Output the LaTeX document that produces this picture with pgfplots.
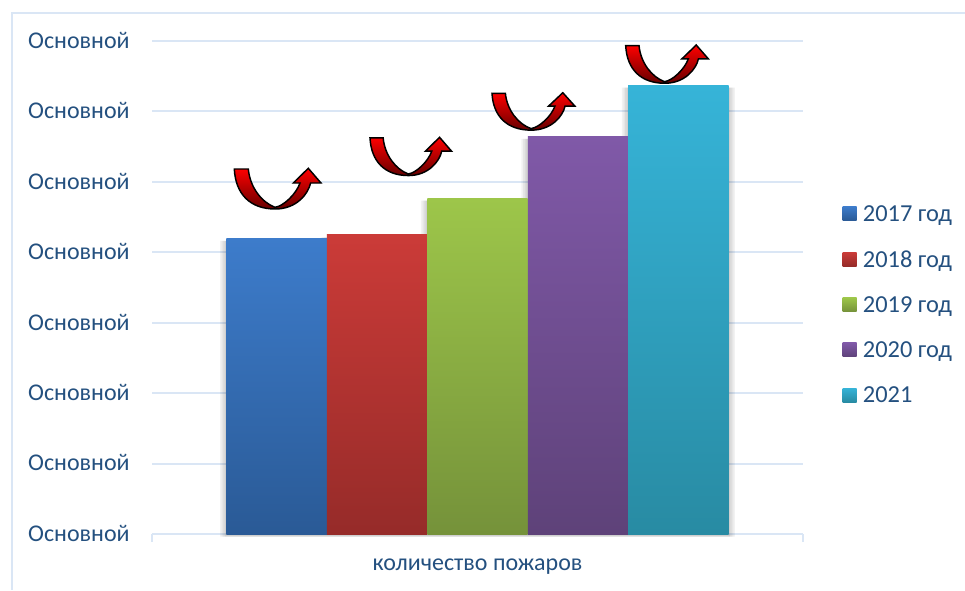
\documentclass[border=0pt]{standalone}
\usepackage{fontspec}
\setmainfont{Carlito}
\usepackage{pgfplots}
\pgfplotsset{compat=1.18}
\definecolor{txt}{HTML}{24507F}
\definecolor{gridc}{HTML}{DAE6F5}
\definecolor{aT}{HTML}{3D7CCB}\definecolor{aB}{HTML}{2A5A96}
\definecolor{bT}{HTML}{CB3B38}\definecolor{bB}{HTML}{962B29}
\definecolor{cT}{HTML}{9DC64A}\definecolor{cB}{HTML}{75923A}
\definecolor{dT}{HTML}{8059A8}\definecolor{dB}{HTML}{5E4279}
\definecolor{eT}{HTML}{36B4D8}\definecolor{eB}{HTML}{288BA3}
% One curved arrow; #1 = left, #2 = top, #3 = x scale, #4 = y scale (pixel units)
\newcommand{\curvearrow}[4]{%
  \begin{scope}[shift={(#1,#2)},xscale=#3,yscale=#4]
    \draw[black,line width=1.1pt,line join=miter,top color=red,bottom color=red!40!black]
      (0,0.7) -- (14,0.7)
      .. controls (15.7,19) and (27.3,34) .. (40.7,39)
      .. controls (49,38) and (62,25.7) .. (65.7,14.7)
      -- (59,14.7) -- (74,0) -- (86.7,14.7) -- (76.3,14.7)
      .. controls (74,25.7) and (62,40.7) .. (41,40.7)
      .. controls (15.7,40.7) and (1.3,25.7) .. (0,0.7) -- cycle;
  \end{scope}}
\begin{document}
\begin{tikzpicture}
  \begin{scope}[x=0.75pt,y=-0.75pt]
    \path[use as bounding box] (0,0) rectangle (965,590);
    \draw[gridc,line width=1.5pt] (965,12.5) -- (11.5,12.5) -- (11.5,590);
  \end{scope}
  \begin{axis}[
    at={(114pt,-400.5pt)},anchor=south west,
    scale only axis,width=488.25pt,height=369.75pt,
    xmin=-3.24,xmax=3.24,ymin=0,ymax=7,
    ybar,bar shift=0pt,bar width=75.3pt,
    axis y line=none,axis x line*=bottom,
    axis line style={gridc,line width=1.5pt,-},
    clip=false,
    xtick={0},xticklabels={количество пожаров},
    minor xtick={-3.24,3.24},
    major tick length=0pt,minor tick length=6pt,
    tick style={gridc,line width=1.5pt},
    x tick label style={font=\fontsize{18}{20}\selectfont,text=txt,yshift=-15pt},
    legend style={draw=none,fill=none,at={(1.0605,0.464)},anchor=west,inner sep=0pt,
      nodes={inner xsep=2.25pt},
      font=\fontsize{18.3}{20}\selectfont,text=txt,row sep=16.5pt},
    legend cell align=left,
    legend image code/.code={\path[#1,draw=none] (0pt,-4.5pt) rectangle (10.5pt,6pt);\path (13pt,0pt);},
    every axis plot/.append style={draw=none},
  ]
    % horizontal rules and their labels
    \pgfplotsinvokeforeach{1,...,7}{\draw[gridc,line width=1.5pt] (axis cs:-3.24,#1) -- (axis cs:3.24,#1);}
    \pgfplotsinvokeforeach{0,...,7}{\node[anchor=east,text=txt,font=\fontsize{18}{20}\selectfont] at (axis cs:-3.24,#1) [xshift=-13.25pt,yshift=0.5pt] {Основной};}
    % soft shadow behind the bars: widening translucent layers
    \pgfplotsinvokeforeach{77.3,79.8,82.3,84.8}{
      \addplot[forget plot,bar width=#1pt,fill=black,fill opacity=.05,yshift=-2pt]
        coordinates {(-2,4.20) (-1,4.25) (0,4.77) (1,5.65) (2,6.375)};
    }
    \addplot[top color=aT,bottom color=aB] coordinates {(-2,4.20)};
    \addlegendentry{2017 год}
    \addplot[top color=bT,bottom color=bB] coordinates {(-1,4.25)};
    \addlegendentry{2018 год}
    \addplot[top color=cT,bottom color=cB] coordinates {(0,4.77)};
    \addlegendentry{2019 год}
    \addplot[top color=dT,bottom color=dB] coordinates {(1,5.65)};
    \addlegendentry{2020 год}
    \addplot[top color=eT,bottom color=eB] coordinates {(2,6.375)};
    \addlegendentry{2021}
  \end{axis}
  \begin{scope}[x=0.75pt,y=-0.75pt]
    \curvearrow{234.3}{168.3}{1}{1}
    \curvearrow{370}{137.3}{0.94}{0.94}
    \curvearrow{492}{92.7}{0.957}{0.92}
    \curvearrow{625.7}{45}{0.953}{0.94}
  \end{scope}
\end{tikzpicture}
\end{document}
